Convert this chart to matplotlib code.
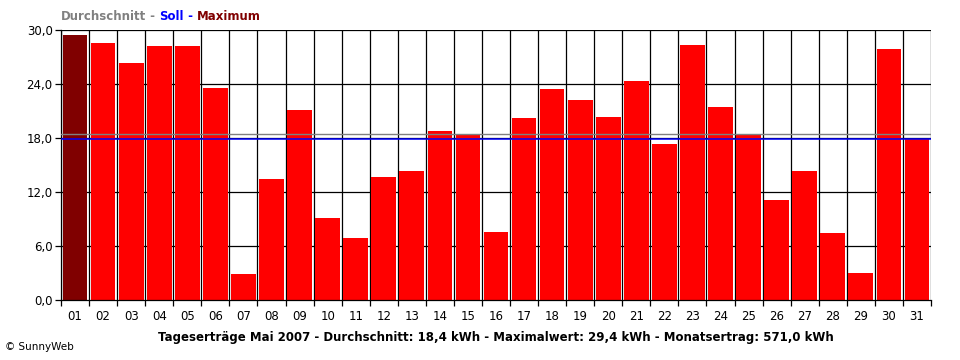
import numpy as np
import matplotlib.pyplot as plt

days = ['%02d' % d for d in range(1, 32)]
ertrag = [29.4, 28.6, 26.3, 28.2, 28.2, 23.6, 2.9, 13.4, 21.1, 9.1,
          6.9, 13.7, 14.3, 18.8, 18.3, 7.6, 20.2, 23.4, 22.2, 20.3,
          24.3, 17.3, 28.3, 21.4, 18.3, 11.1, 14.3, 7.4, 3.0, 27.9, 17.9]
durchschnitt = 18.4
soll = 17.9
yticks = [0, 6, 12, 18, 24, 30]
ytick_labels = ['0,0', '6,0', '12,0', '18,0', '24,0', '30,0']
footer = ('Tageserträge Mai 2007 - Durchschnitt: 18,4 kWh - '
          'Maximalwert: 29,4 kWh - Monatsertrag: 571,0 kWh')

plt.rcParams['font.family'] = 'DejaVu Sans'

fig = plt.figure(figsize=(9.6, 3.6), dpi=100)
ax = fig.add_axes([61/960, 60/360, 870/960, 270/360])

x = np.arange(len(days))
imax = int(np.argmax(ertrag))
colors = ['#800000' if i == imax else '#ff0000' for i in x]
ax.bar(x, ertrag, width=0.88, color=colors, zorder=2)

# gridlines (behind bars)
for b in np.arange(-0.5, len(days)):
    ax.axvline(b, color='black', lw=0.9, zorder=1)
for t in yticks[1:]:
    ax.axhline(t, color='black', lw=0.9, zorder=1)

# average and target lines on top
ax.axhline(durchschnitt, color='#808080', lw=1.0, zorder=3)
ax.axhline(soll, color='#0000ff', lw=1.1, zorder=3)

ax.set_xlim(-0.5, len(days) - 0.5)
ax.set_ylim(0, 30)
for s in ['top', 'right']:
    ax.spines[s].set_visible(False)
ax.spines['left'].set_linewidth(0.9)
ax.spines['bottom'].set_linewidth(0.9)

ax.set_xticks(np.arange(-0.5, len(days)))
ax.set_xticklabels([])
ax.tick_params(axis='x', which='major', length=4, width=0.9, direction='out')
ax.set_xticks(x, minor=True)
ax.set_xticklabels(days, minor=True, fontsize=8.5)
ax.tick_params(axis='x', which='minor', length=0, pad=7)

ax.set_yticks(yticks)
ax.set_yticklabels(ytick_labels, fontsize=8.5)
ax.tick_params(axis='y', length=4, width=0.9, direction='out', pad=2)

# legend text in the top left corner
t1 = fig.text(61/960, 1 - 17/360, 'Durchschnitt', color='#808080',
              fontsize=8.5, fontweight='bold', va='center', ha='left')
t2 = ax.annotate(' - ', xycoords=t1, xy=(1, 0), va='bottom',
                 color='#808080', fontsize=8.5, fontweight='bold')
t3 = ax.annotate('Soll', xycoords=t2, xy=(1, 0), va='bottom',
                 color='#0000ff', fontsize=8.5, fontweight='bold')
t4 = ax.annotate(' - ', xycoords=t3, xy=(1, 0), va='bottom',
                 color='#0000ff', fontsize=8.5, fontweight='bold')
ax.annotate('Maximum', xycoords=t4, xy=(1, 0), va='bottom',
            color='#800000', fontsize=8.5, fontweight='bold')

fig.text(496/960, 1 - 337/360, footer, fontsize=8.5, fontweight='bold',
         ha='center', va='center')
fig.text(5/960, 1 - 347/360, '© SunnyWeb', fontsize=7.5,
         ha='left', va='center')

fig.savefig('out.png', dpi=100)
